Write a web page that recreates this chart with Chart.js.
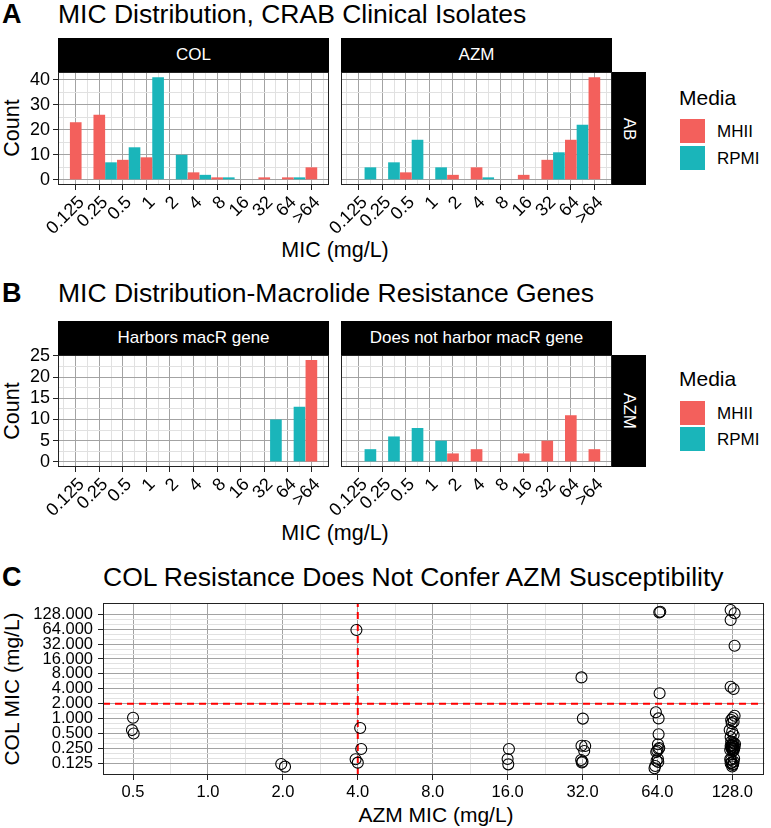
<!DOCTYPE html>
<html>
<head>
<meta charset="utf-8">
<title>MIC Distribution</title>
<script src="https://cdn.jsdelivr.net/npm/chart.js@4.4.1/dist/chart.umd.min.js"></script>
<style>
  html,body{margin:0;padding:0;background:#fff}
  body{width:771px;height:828px;position:relative;overflow:hidden;font-family:"Liberation Sans",Arial,Helvetica,sans-serif;color:#000}
  .t{position:absolute;white-space:nowrap}
  .c{transform:translate(-50%,-50%)}
  .rl{transform:translate(-50%,-50%) rotate(-90deg)}
  .strip{position:absolute;background:#000;color:#fff;font-size:17px;display:flex;align-items:center;justify-content:center}
  .strip span{display:inline-block;white-space:nowrap}
  .vs span{transform:rotate(90deg)}
  canvas{position:absolute}
  .key{position:absolute;width:25px;height:24px}
</style>
</head>
<body>
<!-- Panel A -->
<div class="t" style="left:2px;top:-2px;font-size:27px;font-weight:bold;line-height:32px">A</div>
<div class="t" style="left:58px;top:-2px;font-size:26.5px;line-height:32px">MIC Distribution, CRAB Clinical Isolates</div>
<div class="strip" style="left:58px;top:38px;width:271px;height:34px"><span>COL</span></div>
<div class="strip" style="left:341px;top:38px;width:271px;height:34px"><span>AZM</span></div>
<div class="strip vs" style="left:612px;top:72px;width:34px;height:113px"><span>AB</span></div>
<div class="t rl" style="left:12px;top:128px;font-size:21.5px">Count</div>
<div class="t c" style="left:335px;top:250px;font-size:21.5px">MIC (mg/L)</div>
<div class="t" style="left:679px;top:84px;font-size:21px;line-height:28px">Media</div>
<div class="key" style="left:680px;top:119px;background:#F3605C"></div>
<div class="key" style="left:680px;top:146px;background:#1AB5BA"></div>
<div class="t" style="left:717px;top:119px;font-size:17px;line-height:25px">MHII</div>
<div class="t" style="left:717px;top:146px;font-size:17px;line-height:25px">RPMI</div>
<canvas id="a1" width="340" height="190" style="left:0px;top:60px"></canvas>
<canvas id="a2" width="320" height="190" style="left:300px;top:60px"></canvas>

<!-- Panel B -->
<div class="t" style="left:2px;top:277px;font-size:27px;font-weight:bold;line-height:32px">B</div>
<div class="t" style="left:58px;top:277px;font-size:26.5px;line-height:32px">MIC Distribution-Macrolide Resistance Genes</div>
<div class="strip" style="left:58px;top:321px;width:271px;height:34px"><span>Harbors macR gene</span></div>
<div class="strip" style="left:341px;top:321px;width:271px;height:34px"><span>Does not harbor macR gene</span></div>
<div class="strip vs" style="left:612px;top:355px;width:34px;height:112px"><span>AZM</span></div>
<div class="t rl" style="left:12px;top:411px;font-size:21.5px">Count</div>
<div class="t c" style="left:335px;top:533px;font-size:21.5px">MIC (mg/L)</div>
<div class="t" style="left:679px;top:365px;font-size:21px;line-height:28px">Media</div>
<div class="key" style="left:680px;top:401px;background:#F3605C"></div>
<div class="key" style="left:680px;top:427px;background:#1AB5BA"></div>
<div class="t" style="left:717px;top:401px;font-size:17px;line-height:25px">MHII</div>
<div class="t" style="left:717px;top:427px;font-size:17px;line-height:25px">RPMI</div>
<canvas id="b1" width="340" height="190" style="left:0px;top:343px"></canvas>
<canvas id="b2" width="320" height="190" style="left:300px;top:343px"></canvas>

<!-- Panel C -->
<div class="t" style="left:2px;top:561px;font-size:27px;font-weight:bold;line-height:32px">C</div>
<div class="t" style="left:103px;top:561px;font-size:26.5px;line-height:32px">COL Resistance Does Not Confer AZM Susceptibility</div>
<div class="t rl" style="left:12px;top:689px;font-size:21px">COL MIC (mg/L)</div>
<div class="t c" style="left:436px;top:815px;font-size:21px">AZM MIC (mg/L)</div>
<canvas id="c1" width="771" height="238" style="left:0px;top:590px"></canvas>

<script>
// ---------------- data ----------------
const micLabels = ['0.125','0.25','0.5','1','2','4','8','16','32','64','>64'];
// Panel A, facet COL
const colMHII = [23,26,8,9,0,3,1,0,1,1,5];
const colRPMI = [0,7,13,41,10,2,1,0,0,1,0];
// Panel A, facet AZM
const azmMHII = [0,0,3,0,2,5,0,2,8,16,41];
const azmRPMI = [5,7,16,5,0,1,0,0,11,22,0];
// Panel B, facet "Harbors macR gene"
const macrMHII = [0,0,0,0,0,0,0,0,0,0,24];
const macrRPMI = [0,0,0,0,0,0,0,0,10,13,0];
// Panel B, facet "Does not harbor macR gene"
const noMacrMHII = [0,0,0,0,2,3,0,2,5,11,3];
const noMacrRPMI = [3,6,8,5,0,0,0,0,0,0,0];

// Panel C: jittered isolates (AZM MIC, COL MIC)
const scatterAZM = [
  0.500,0.495,0.503,
  1.97,2.04,
  3.95,4.09,4.13,3.92,4.00,
  16.2,16.0,16.1,
  31.7,32.1,31.7,32.8,32.5,31.6,32.0,31.8,
  65.7,65.1,65.3,63.1,64.7,64.7,64.3,64.7,63.9,65.1,63.3,64.3,63.5,62.7,62.3,64.5,
  126.0,130.7,126.0,130.7,126.0,129.5,
  130.7,126.6,129.5,128.4,127.2,
  124.9,127.8,129.5,126.0,
  126.6,129.5,128.4,126.0,130.7,127.2,129.5,125.5,128.4,131.2,127.2,129.0,126.6,130.1,127.8,129.5,128.4,
  126.6,129.5,126.0,128.4,130.1,127.2,129.0,127.8,125.5
];
const scatterCOL = [
  1.04,0.586,0.500,
  0.121,0.107,
  61.7,0.645,0.243,0.151,0.129,
  0.243,0.153,0.119,
  6.80,1.00,0.283,0.280,0.222,0.146,0.135,0.130,
  144,140,3.25,1.34,1.01,0.483,0.303,0.243,0.225,0.255,0.212,0.153,0.141,0.110,0.099,0.133,
  156,134,98,29.7,4.40,3.97,
  1.14,0.94,0.865,1.03,0.81,
  0.586,0.543,0.466,0.424,
  0.342,0.316,0.293,0.279,0.266,0.255,0.243,0.232,0.222,0.308,0.287,0.273,0.260,0.249,0.238,0.227,0.330,
  0.146,0.135,0.125,0.116,0.156,0.129,0.121,0.108,0.150
];
const azmTicksC = [0.5,1,2,4,8,16,32,64,128];
const colTicksC = [0.125,0.25,0.5,1,2,4,8,16,32,64,128];
const azmBreakpoint = 4;
const colBreakpoint = 2;

// ---------------- style ----------------
const FONT = '"Liberation Sans", Arial, Helvetica, sans-serif';
Chart.defaults.font.family = FONT;
Chart.defaults.color = '#000';
const MHII_COLOR = '#F3605C', RPMI_COLOR = '#1AB5BA';
const MAJOR = '#a3a3a3', MINOR = '#e1e1e1', TICK = '#222', NONE = 'rgba(0,0,0,0)';
const tv = c => (c && c.tick) ? c.tick.value : NaN;

const borderPlugin = {
  id: 'panelBorder',
  afterDraw(chart) {
    const {ctx, chartArea: a} = chart;
    ctx.save();
    ctx.strokeStyle = '#222';
    ctx.lineWidth = 1;
    ctx.strokeRect(Math.round(a.left) + 0.5, Math.round(a.top) + 0.5,
                   Math.round(a.right - a.left) - 1, Math.round(a.bottom - a.top) - 1);
    ctx.restore();
  }
};

function barChart(id, mhii, rpmi, o) {
  const idx = micLabels.map((_, i) => i);
  const isMajX = v => Number.isInteger(v) && v >= 0 && v <= 10;
  const isMajY = v => isFinite(v) && Math.abs(v / o.yMajor - Math.round(v / o.yMajor)) < 1e-9;
  return new Chart(document.getElementById(id), {
    type: 'bar',
    data: {
      datasets: [
        {label: 'MHII', data: idx.map(i => ({x: i, y: mhii[i]})), backgroundColor: MHII_COLOR},
        {label: 'RPMI', data: idx.map(i => ({x: i, y: rpmi[i]})), backgroundColor: RPMI_COLOR}
      ]
    },
    options: {
      responsive: false, animation: false, devicePixelRatio: 1,
      layout: {padding: {left: o.padL, right: o.padR, top: o.padT, bottom: 0}},
      plugins: {legend: {display: false}, tooltip: {enabled: false}},
      // ruler spacing is the half-category grid step, so a full category = 2 steps
      datasets: {bar: {categoryPercentage: 1.98, barPercentage: 1, borderWidth: 0}},
      scales: {
        x: {
          type: 'linear', min: -1, max: 10.5, bounds: 'data', offset: false,
          afterBuildTicks: ax => { const t = []; for (let v = -1; v <= 10.5; v += 0.5) t.push({value: v}); ax.ticks = t; },
          afterFit: ax => { ax.height = o.xH; ax.paddingLeft = 0; ax.paddingRight = 0; },
          ticks: {autoSkip: false, minRotation: 45, maxRotation: 45, padding: 2,
                  font: {size: 18}, color: '#000',
                  callback: v => isMajX(v) ? micLabels[v] : ''},
          grid: {lineWidth: 1, tickLength: 5,
                 color: c => isMajX(tv(c)) ? MAJOR : MINOR,
                 tickColor: c => isMajX(tv(c)) ? TICK : NONE},
          border: {display: false}
        },
        y: {
          type: 'linear', min: o.yMin, max: o.yMax, bounds: 'data',
          afterBuildTicks: ax => { const t = []; for (let v = 0; v <= o.yMax; v += o.yMajor / 2) t.push({value: v}); ax.ticks = t; },
          afterFit: ax => { ax.width = o.yW; ax.paddingTop = 0; ax.paddingBottom = 0; },
          ticks: {display: o.showY, autoSkip: false, padding: 3, font: {size: 18}, color: '#000',
                  callback: v => isMajY(v) ? String(v) : ''},
          grid: {lineWidth: 1, tickLength: 5, drawTicks: o.showY,
                 color: c => isMajY(tv(c)) ? MAJOR : MINOR,
                 tickColor: c => isMajY(tv(c)) ? TICK : NONE},
          border: {display: false}
        }
      }
    },
    plugins: [borderPlugin]
  });
}

const aY = {yMin: -2.05, yMax: 43.05, yMajor: 10};
const bY = {yMin: -1.2, yMax: 25.2, yMajor: 5};
barChart('a1', colMHII, colRPMI, Object.assign({padL: 0, padR: 11, padT: 12, xH: 65, yW: 58, showY: true}, aY));
barChart('a2', azmMHII, azmRPMI, Object.assign({padL: 41, padR: 8, padT: 12, xH: 65, yW: 0, showY: false}, aY));
barChart('b1', macrMHII, macrRPMI, Object.assign({padL: 0, padR: 11, padT: 12, xH: 66, yW: 58, showY: true}, bY));
barChart('b2', noMacrMHII, noMacrRPMI, Object.assign({padL: 41, padR: 8, padT: 12, xH: 66, yW: 0, showY: false}, bY));

// ---------------- panel C ----------------
const xMinC = Math.pow(2, -1.401), xMaxC = Math.pow(2, 7.428);
const yMinC = Math.pow(2, -3.785), yMaxC = Math.pow(2, 7.758);
// grid positions between majors (geometric subdivision of each doubling)
function withMinor(major, lo, hi, parts) {
  const t = [];
  for (let i = 0; i < major.length; i++) {
    t.push({value: major[i]});
    if (i < major.length - 1) {
      for (let k = 1; k < parts; k++) t.push({value: major[i] * Math.pow(major[i + 1] / major[i], k / parts)});
    }
  }
  return t.filter(k => k.value >= lo && k.value <= hi);
}
const majC = (list, v) => list.some(m => Math.abs(m - v) < 1e-9);

new Chart(document.getElementById('c1'), {
  type: 'scatter',
  data: {
    datasets: [
      {label: 'isolates', data: scatterAZM.map((x, i) => ({x: x, y: scatterCOL[i]})),
       pointStyle: 'circle', pointRadius: 5.5, pointBorderWidth: 1.1,
       pointBorderColor: '#000', pointBackgroundColor: NONE},
      {label: 'AZM breakpoint', data: [{x: azmBreakpoint, y: yMinC}, {x: azmBreakpoint, y: yMaxC}],
       showLine: true, borderColor: '#FF0000', borderWidth: 2, borderDash: [7, 5], pointRadius: 0},
      {label: 'COL breakpoint', data: [{x: xMinC, y: colBreakpoint}, {x: xMaxC, y: colBreakpoint}],
       showLine: true, borderColor: '#FF0000', borderWidth: 2, borderDash: [7, 5], pointRadius: 0}
    ]
  },
  options: {
    responsive: false, animation: false, devicePixelRatio: 1,
    layout: {padding: {left: 0, right: 1, top: 13, bottom: 0}},
    plugins: {legend: {display: false}, tooltip: {enabled: false}},
    scales: {
      x: {
        type: 'logarithmic', min: xMinC, max: xMaxC, bounds: 'data',
        afterBuildTicks: ax => { ax.ticks = withMinor(azmTicksC, xMinC, xMaxC, 2); },
        afterFit: ax => { ax.height = 53; ax.paddingLeft = 0; ax.paddingRight = 0; },
        ticks: {autoSkip: false, maxRotation: 0, minRotation: 0, padding: 3, font: {size: 16.5}, color: '#000',
                callback: v => majC(azmTicksC, v) ? Number(v).toFixed(1) : ''},
        grid: {lineWidth: 1, tickLength: 5,
               color: c => majC(azmTicksC, tv(c)) ? MAJOR : MINOR,
               tickColor: c => majC(azmTicksC, tv(c)) ? TICK : NONE},
        border: {display: false}
      },
      y: {
        type: 'logarithmic', min: yMinC, max: yMaxC, bounds: 'data',
        afterBuildTicks: ax => { ax.ticks = withMinor(colTicksC, yMinC, yMaxC, 3); },
        afterFit: ax => { ax.width = 103; ax.paddingTop = 0; ax.paddingBottom = 0; },
        ticks: {autoSkip: false, padding: 5, font: {size: 16.5}, color: '#000',
                callback: v => majC(colTicksC, v) ? Number(v).toFixed(3) : ''},
        grid: {lineWidth: 1, tickLength: 5,
               color: c => majC(colTicksC, tv(c)) ? MAJOR : MINOR,
               tickColor: c => majC(colTicksC, tv(c)) ? TICK : NONE},
        border: {display: false}
      }
    }
  },
  plugins: [borderPlugin]
});
</script>
</body>
</html>
